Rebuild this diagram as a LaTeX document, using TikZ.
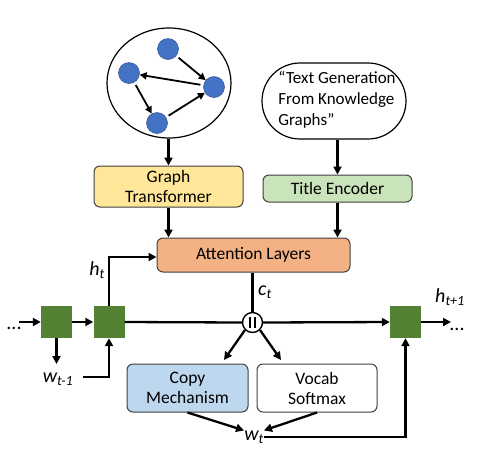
\documentclass[tikz,border=0pt]{standalone}
\usepackage{fontspec}
\setmainfont{Carlito}
\usetikzlibrary{arrows.meta,shapes.geometric}
\definecolor{gyel}{HTML}{FFE699}
\definecolor{ggrn}{HTML}{C9E3BA}
\definecolor{gorg}{HTML}{F4B183}
\definecolor{gblu}{HTML}{BDD7EE}
\definecolor{gsq}{HTML}{548235}
\definecolor{gdot}{HTML}{4472C4}
\begin{document}
\begin{tikzpicture}[x=1pt,y=-1pt,
  box/.style={draw=black!75,line width=1pt,rounded corners=6pt,align=center,font=\fontsize{17.5}{20}\selectfont,inner sep=0pt},
  sq/.style={fill=gsq,draw=none,minimum width=31pt,minimum height=32pt,inner sep=0pt},
  gnode/.style={circle,fill=gdot,draw=gdot!70!black,line width=0.5pt,minimum size=21pt,inner sep=0pt},
  arr/.style={-{Triangle[length=8pt,width=8pt]},line width=2.3pt},
  garr/.style={-{Triangle[length=7pt,width=7pt]},line width=1.8pt},
  ln/.style={line width=2.3pt},
  lab/.style={font=\fontsize{20}{22}\selectfont\itshape,inner sep=0pt}]
\useasboundingbox (0,0) rectangle (482,467);
% graph ellipse
\node[ellipse,draw,line width=1.2pt,minimum width=124pt,minimum height=110pt,inner sep=0pt] (gr) at (169,83) {};
\node[gnode] (n1) at (168,49) {};
\node[gnode] (n2) at (129,73) {};
\node[gnode] (n3) at (214,87) {};
\node[gnode] (n4) at (157,123) {};
\draw[garr,shorten <=3pt] (n1) -- (n3);
\draw[garr,shorten <=3pt] (n3) -- (n2);
\draw[garr,shorten <=3pt] (n2) -- (n4);
\draw[garr,shorten <=3pt] (n4) -- (n3);
% title
\node[draw,line width=1.2pt,rounded corners=38pt,minimum width=144pt,minimum height=76pt,inner sep=0pt] (ti) at (334,101) {};
\node[align=left,font=\fontsize{17}{21}\selectfont,inner sep=0pt] (tt) at (337,100) {“Text Generation\\From Knowledge\\Graphs”};
% boxes
\node[box,fill=gyel,minimum width=149pt,minimum height=41pt] (gt) at (168.5,186.5) {Graph\\Transformer};
\node[box,fill=ggrn,minimum width=149pt,minimum height=27pt] (te) at (337.5,188.5) {Title Encoder};
\node[box,fill=gorg,minimum width=193pt,minimum height=34pt] (at) at (253.5,255) {Attention Layers};
\node[box,fill=gblu,minimum width=121pt,minimum height=48pt] (cm) at (187.5,388) {Copy\\Mechanism};
\node[box,fill=white,minimum width=120pt,minimum height=48pt] (vs) at (317,388) {Vocab\\Softmax};
\draw[arr] (gr.south -| gt) -- (gt.north);
\draw[arr] (ti.south -| te) -- (te.north);
\draw[arr] (gt.south) -- (gt.south |- at.north);
\draw[arr] (te.south) -- (te.south |- at.north);
% squares
\node[sq] (s1) at (56.5,322) {};
\node[sq] (s2) at (109,322) {};
\node[sq] (s3) at (405.5,322) {};
\node[circle,draw,line width=1.4pt,fill=white,minimum size=20pt,inner sep=0pt] (cc) at (252.5,322.5) {};
\draw[line width=1.5pt] ([xshift=-2.3pt,yshift=-5.5pt]cc.center) -- ([xshift=-2.3pt,yshift=5.5pt]cc.center);
\draw[line width=1.5pt] ([xshift=2.3pt,yshift=-5.5pt]cc.center) -- ([xshift=2.3pt,yshift=5.5pt]cc.center);
\node[font=\fontsize{20}{22}\selectfont,inner sep=0pt] (d1) at (14,328) {...};
\node[font=\fontsize{20}{22}\selectfont,inner sep=0pt] (d2) at (457,329) {...};
\coordinate (l0) at (19,322);
\coordinate (r0) at (451,322);
\draw[arr] (l0) -- (s1.west);
\draw[arr] (s1.east) -- (s2.west);
\draw[ln] (s2.east) -- (cc.west);
\draw[arr] (cc.east) -- (s3.west);
\draw[arr] (s3.east) -- (r0);
\coordinate (w1) at (56.5,364);
\draw[arr] (s1.south) -- (w1);
\node[lab] (wl) at (58,379) {w\textsubscript{t-1}};
\coordinate (wr) at (83,377);
\draw[arr] (wr) -| (s2.south);
% h_t
\draw[arr] (s2.north) |- (at.west |- 0,257);
\node[lab] (ht) at (97,270) {h\textsubscript{t}};
\node[lab] (ht1) at (450,297) {h\textsubscript{t+1}};
% c_t
\draw[ln] (at.south -| cc) -- (cc.north);
\node[lab] (ct) at (265,292) {c\textsubscript{t}};
\coordinate (a1) at (224,360);
\coordinate (a2) at (281,360);
\draw[arr] (cc.south west) -- (a1);
\draw[arr] (cc.south east) -- (a2);
% w_t
\node[lab] (wt) at (254,437) {w\textsubscript{t}};
\draw[arr] (cm.south) -- (wt.north west);
\draw[arr] (vs.south) -- (wt.north east);
\draw[arr] (wt.east) -| (s3.south);
\end{tikzpicture}
\end{document}
